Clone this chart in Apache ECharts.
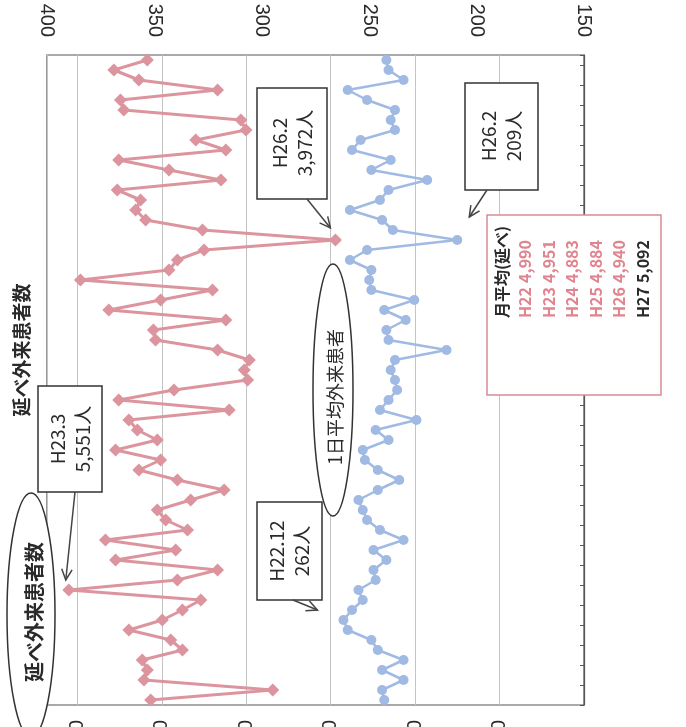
<!DOCTYPE html>
<html><head><meta charset="utf-8">
<script src="https://cdn.jsdelivr.net/npm/echarts@6/dist/echarts.min.js"></script>
<style>html,body{margin:0;padding:0;background:#fff}#c{width:686px;height:727px}</style>
</head><body><div id="c"></div>
<script>
// Months (Japanese fiscal years, H22.4 .. H27.8)
const months = [
 "H22.4","H22.5","H22.6","H22.7","H22.8","H22.9","H22.10","H22.11","H22.12","H23.1","H23.2","H23.3",
 "H23.4","H23.5","H23.6","H23.7","H23.8","H23.9","H23.10","H23.11","H23.12","H24.1","H24.2","H24.3",
 "H24.4","H24.5","H24.6","H24.7","H24.8","H24.9","H24.10","H24.11","H24.12","H25.1","H25.2","H25.3",
 "H25.4","H25.5","H25.6","H25.7","H25.8","H25.9","H25.10","H25.11","H25.12","H26.1","H26.2","H26.3",
 "H26.4","H26.5","H26.6","H26.7","H26.8","H26.9","H26.10","H26.11","H26.12","H27.1","H27.2","H27.3",
 "H27.4","H27.5","H27.6","H27.7","H27.8"
];
// 延べ外来患者数 (monthly total outpatients)
const visits = [
 5066,4343,5106,5086,5116,4878,4947,5195,4997,4878,4769,5551,
 4908,4670,5274,4918,5334,4848,4977,5027,4829,4631,4908,5136,
 5007,5274,5027,5145,5195,4601,5255,4928,4492,4512,4482,4670,
 5037,5050,4621,5314,5007,4700,5482,4958,4908,4750,3972,4759,
 5096,5155,5126,5264,4650,4958,5255,4621,4799,4502,4532,5225,
 5245,4670,5136,5284,5086
];
// 1日平均外来患者 (daily average outpatients)
const daily = [
 243,244,234,244,234,246,249,260,262,258,253,255,
 247,248,242,248,234,245,251,253,255,246,236,246,
 252,253,241,247,228,245,241,237,238,240,238,214,
 241,242,233,243,229,249,250,249,259,251,209,239,
 244,259,245,241,223,249,240,258,254,238,240,238,
 251,260,234,241,242
];
// Monthly averages legend
const avgYears = ["H22","H23","H24","H25","H26","H27"];
const avgValues = ["4,990","4,951","4,883","4,884","4,940","5,092"];

const chart = echarts.init(document.getElementById('c'));
const DIG = '"Liberation Sans", Arial, sans-serif';
const JP = '"Noto Sans CJK JP", "Noto Sans", sans-serif';
const RED = '#dc959e';
const BLUE = '#a0bae3';
const INK = '#2a2a2a';

chart.setOption({
  animation: false,
  backgroundColor: '#fff',
  grid: {left: 47, right: 102, top: 55, bottom: 22, show: true, borderColor: '#555', borderWidth: 1.2,
    containLabel: false, outerBoundsMode: 'none'},
  yAxis: {
    type: 'category', data: months, position: 'right', boundaryGap: true,
    axisLine: {show: true, lineStyle: {color: '#555', width: 1.2}},
    axisTick: {show: true, inside: true, length: 4, lineStyle: {color: '#555'}},
    axisLabel: {show: false}, splitLine: {show: false}
  },
  xAxis: [
    {
      type: 'value', position: 'bottom', inverse: true, min: 2500, max: 5680, interval: 500,
      axisLine: {show: false}, axisTick: {show: false},
      splitLine: {show: true, lineStyle: {color: '#c4c4c4', width: 1}},
      axisLabel: {rotate: 90, margin: 15, fontSize: 20, color: INK, fontFamily: DIG,
        showMinLabel: false, showMaxLabel: false,
        formatter: v => v.toLocaleString('en-US')}
    },
    {
      type: 'value', position: 'top', inverse: true, min: 150, max: 400, interval: 50,
      axisLine: {show: false}, axisTick: {show: false}, splitLine: {show: false},
      axisLabel: {rotate: 90, margin: 18, fontSize: 20, color: INK, fontFamily: DIG}
    }
  ],
  series: [
    {
      name: '延べ外来患者数', type: 'line', xAxisIndex: 0,
      data: visits.map((v, i) => [v, months[i]]),
      symbol: 'diamond', symbolSize: 13, showSymbol: true, showAllSymbol: true,
      lineStyle: {color: RED, width: 3}, itemStyle: {color: RED}, z: 3
    },
    {
      name: '1日平均外来患者', type: 'line', xAxisIndex: 1,
      data: daily.map((v, i) => [v, months[i]]),
      symbol: 'circle', symbolSize: 10, showSymbol: true, showAllSymbol: true,
      lineStyle: {color: BLUE, width: 2.5}, itemStyle: {color: BLUE}, z: 4
    }
  ]
});

function px(seriesIndex, idx) {
  const v = seriesIndex === 0 ? visits[idx] : daily[idx];
  return chart.convertToPixel({xAxisIndex: seriesIndex, yAxisIndex: 0}, [v, months[idx]]);
}
function vtext(x, y, text, o) {
  o = o || {};
  return {type: 'text', x: x, y: y, rotation: Math.PI / 2, z: 20,
    style: {text: text, fontSize: o.size || 19, fontFamily: o.font || JP, fontWeight: o.weight || 'normal',
      fill: o.color || INK, align: o.align || 'center', verticalAlign: 'middle', lineHeight: o.lh || 25}};
}
function box(x, y, w, h, stroke) {
  return {type: 'rect', z: 15, shape: {x: x, y: y, width: w, height: h},
    style: {fill: '#fff', stroke: stroke || '#333', lineWidth: 1.5}};
}
function arrow(x1, y1, x2, y2) {
  const a = Math.atan2(y2 - y1, x2 - x1), L = 12, s = 0.45;
  return [
    {type: 'line', z: 16, shape: {x1: x1, y1: y1, x2: x2, y2: y2}, style: {stroke: '#444', lineWidth: 1.5}},
    {type: 'polyline', z: 16, shape: {points: [
      [x2 - L * Math.cos(a - s), y2 - L * Math.sin(a - s)], [x2, y2],
      [x2 - L * Math.cos(a + s), y2 - L * Math.sin(a + s)]]},
      style: {stroke: '#444', lineWidth: 1.5, fill: null}}
  ];
}

const pR11 = px(0, 11), pR46 = px(0, 46), pB8 = px(1, 8), pB46 = px(1, 46);
const g = [];
// Title
g.push(vtext(22, 350, '延べ外来患者数', {size: 19, weight: 'bold'}));
// Ellipse labels
g.push({type: 'ellipse', z: 15, shape: {cx: 31, cy: 615, rx: 24, ry: 122}, style: {fill: '#fff', stroke: '#333', lineWidth: 1.5}});
g.push(vtext(34, 612, '延べ外来患者数', {size: 20, weight: 'bold'}));
g.push({type: 'ellipse', z: 15, shape: {cx: 333, cy: 390, rx: 20, ry: 126}, style: {fill: '#fff', stroke: '#333', lineWidth: 1.5}});
g.push(vtext(335, 397, '1日平均外来患者', {size: 18}));
// Callouts
g.push(box(38, 386, 64, 106)); g.push(vtext(70, 439, 'H23.3\n5,551人'));
g.push(...arrow(75, 492, pR11[0] - 3, pR11[1] - 10));
g.push(box(257, 88, 70, 111)); g.push(vtext(292, 143, 'H26.2\n3,972人'));
g.push(...arrow(307, 199, pR46[0] - 5, pR46[1] - 12));
g.push(box(257, 502, 65, 98)); g.push(vtext(289, 551, 'H22.12\n262人'));
g.push(...arrow(293, 600, pB8[0] - 26, pB8[1] - 10));
g.push(box(465, 83, 73, 107)); g.push(vtext(501, 136, 'H26.2\n209人'));
g.push(...arrow(487, 190, pB46[0] + 12, pB46[1] - 23));
// Monthly average legend
g.push(box(487, 215, 174, 180, '#d98a98'));
g.push(vtext(502, 318, '月平均(延べ)', {size: 16, weight: 'bold', align: 'left'}));
avgYears.forEach((y, i) => {
  const cx = 525 + i * 23.6;
  const col = i === avgYears.length - 1 ? INK : '#e0848f';
  g.push(vtext(cx, 318, y, {size: 16, weight: 'bold', align: 'left', color: col}));
  g.push(vtext(cx, 240, avgValues[i], {size: 16, weight: 'bold', align: 'right', color: col}));
});
chart.setOption({graphic: g});
</script></body></html>
